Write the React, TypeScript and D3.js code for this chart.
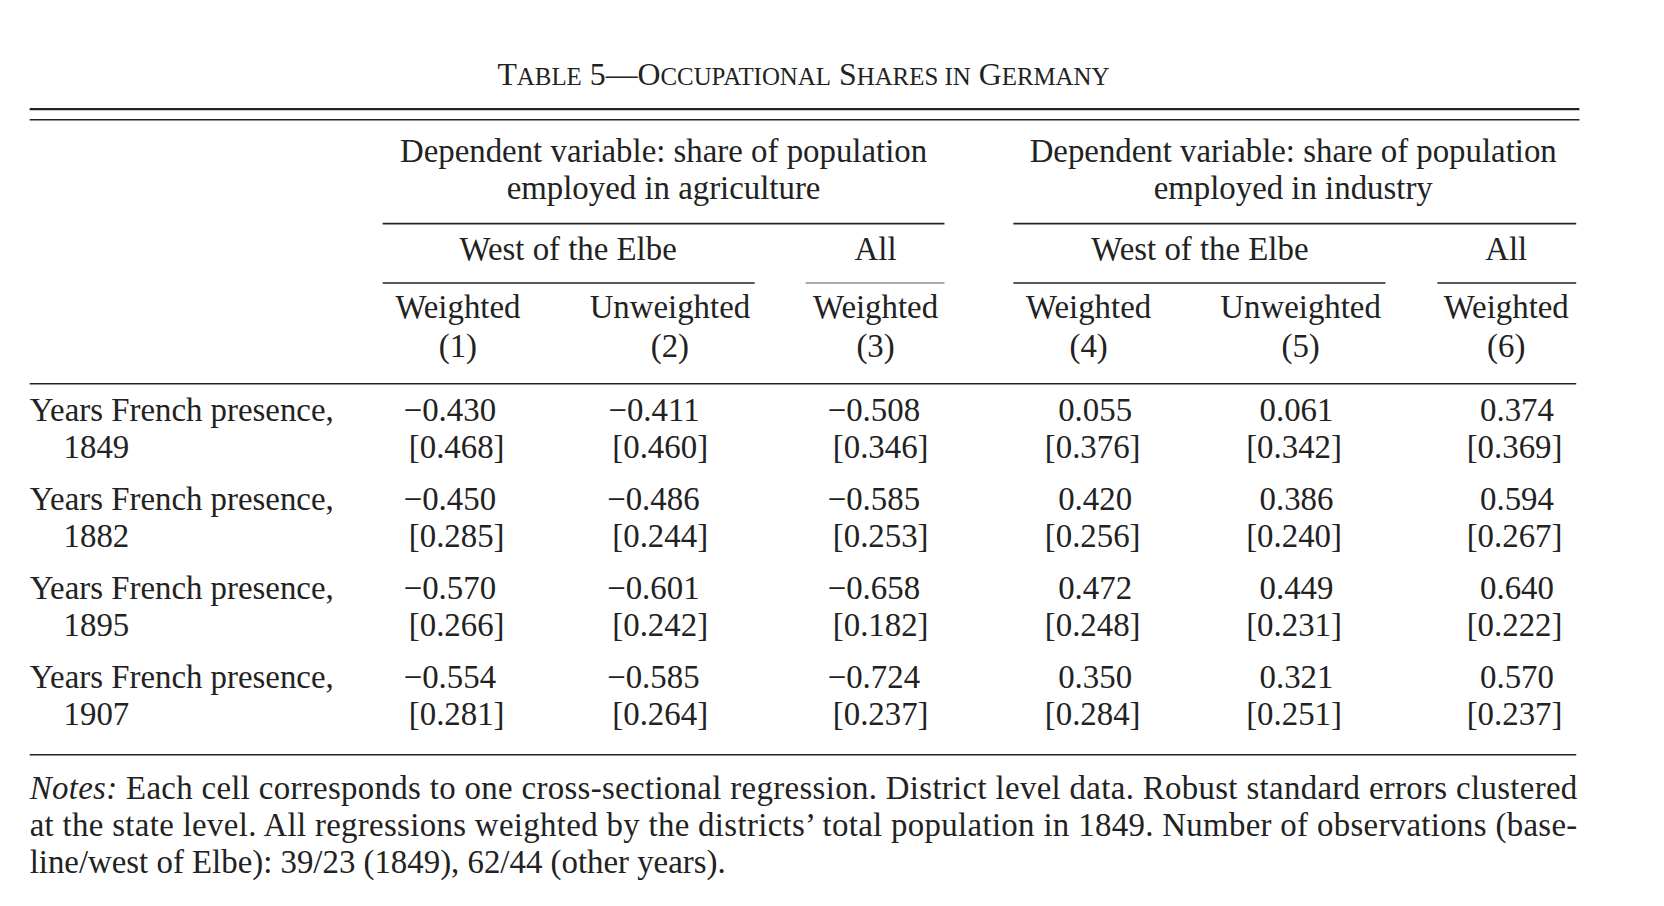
import React from "react";
import * as d3 from "d3";

const years = ["1849", "1882", "1895", "1907"];
const coefs = [
  ["−0.430", "−0.411", "−0.508", "0.055", "0.061", "0.374"],
  ["−0.450", "−0.486", "−0.585", "0.420", "0.386", "0.594"],
  ["−0.570", "−0.601", "−0.658", "0.472", "0.449", "0.640"],
  ["−0.554", "−0.585", "−0.724", "0.350", "0.321", "0.570"],
];
const ses = [
  ["0.468", "0.460", "0.346", "0.376", "0.342", "0.369"],
  ["0.285", "0.244", "0.253", "0.256", "0.240", "0.267"],
  ["0.266", "0.242", "0.182", "0.248", "0.231", "0.222"],
  ["0.281", "0.264", "0.237", "0.284", "0.251", "0.237"],
];
const colHeads = ["Weighted", "Unweighted", "Weighted", "Weighted", "Unweighted", "Weighted"];
const colNums = ["(1)", "(2)", "(3)", "(4)", "(5)", "(6)"];
const notes = [
  ["Notes:", " Each cell corresponds to one cross-sectional regression. District level data. Robust standard errors clustered"],
  ["", "at the state level. All regressions weighted by the districts’ total population in 1849. Number of observations (base-"],
  ["", "line/west of Elbe): 39/23 (1849), 62/44 (other years)."],
];

const S = 1.06;
const font = "'Liberation Serif', 'Times New Roman', serif";
const fs = 31;

export default function App() {
  const colCenter = [432, 632, 826, 1027, 1227, 1421];
  const seEnd = [476, 668, 876, 1076, 1266, 1474];
  const rowY = d3.scaleLinear().domain([0, 1]).range([397, 481]);

  const line = (x1: number, x2: number, y: number, w = 1.5, c = "#222") => (
    <line x1={x1} x2={x2} y1={y} y2={y} stroke={c} strokeWidth={w} />
  );

  return (
    <svg width={1664} height={906} style={{ position: "absolute", left: 0, top: 0, background: "#fff" }}
      fontFamily={font} fill="#222">
      <g transform={`scale(${S})`}>
        <text x={758} y={80} textAnchor="middle" fontSize={30}>
          T<tspan fontSize={23.5}>ABLE</tspan> 5—O<tspan fontSize={23.5}>CCUPATIONAL</tspan> S<tspan fontSize={23.5}>HARES IN</tspan> G<tspan fontSize={23.5}>ERMANY</tspan>
        </text>
        {line(28, 1490, 103, 2)}
        {line(28, 1490, 113, 1.5)}
        <g fontSize={fs} textAnchor="middle">
          <text x={626} y={153}>Dependent variable: share of population</text>
          <text x={626} y={188}>employed in agriculture</text>
          <text x={1220} y={153}>Dependent variable: share of population</text>
          <text x={1220} y={188}>employed in industry</text>
          <text x={536} y={245}>West of the Elbe</text>
          <text x={826} y={245}>All</text>
          <text x={1132} y={245}>West of the Elbe</text>
          <text x={1421} y={245}>All</text>
          {colHeads.map((h, i) => (
            <g key={i}>
              <text x={colCenter[i]} y={300}>{h}</text>
              <text x={colCenter[i]} y={337}>{colNums[i]}</text>
            </g>
          ))}
        </g>
        {line(361, 891, 211)}
        {line(956, 1487, 211)}
        {line(361, 712, 267)}
        {line(760, 891, 267, 2, "#aaa")}
        {line(956, 1307, 267)}
        {line(1356, 1487, 267)}
        {line(28, 1487, 362)}
        <g fontSize={fs}>
          {years.map((yr, r) => (
            <g key={yr}>
              <text x={28} y={rowY(r)}>Years French presence,</text>
              <text x={60} y={rowY(r) + 35}>{yr}</text>
              {coefs[r].map((c, i) => (
                <g key={i} textAnchor="end">
                  <text x={seEnd[i] - 8} y={rowY(r)}>{c}</text>
                  <text x={seEnd[i]} y={rowY(r) + 35}>[{ses[r][i]}]</text>
                </g>
              ))}
            </g>
          ))}
        </g>
        {line(28, 1487, 712)}
        <g fontSize={fs}>
          {notes.map((n, i) => (
            <text key={i} x={28} y={754 + i * 35}
              textLength={i < 2 ? 1460 : undefined} lengthAdjust="spacing">
              {n[0] && <tspan fontStyle="italic">{n[0]}</tspan>}{n[1]}
            </text>
          ))}
        </g>
      </g>
    </svg>
  );
}
